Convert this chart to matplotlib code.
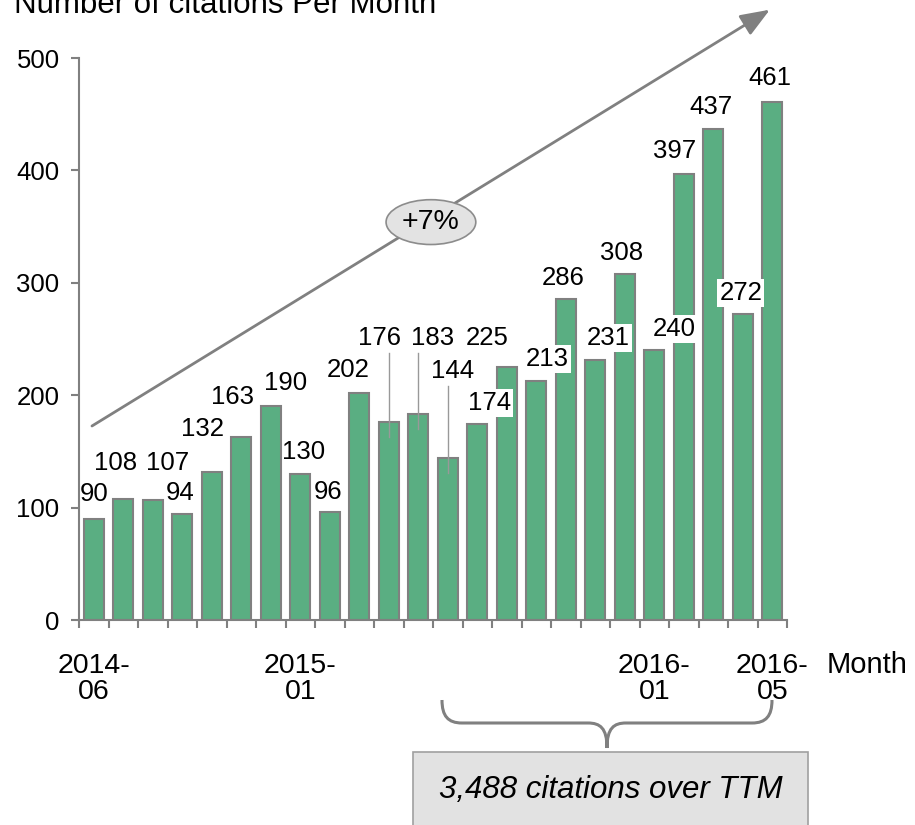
import numpy as np
import matplotlib
matplotlib.use("Agg")
import matplotlib.pyplot as plt
from matplotlib.path import Path
from matplotlib.patches import PathPatch, Rectangle

plt.rcParams['font.family'] = ['Liberation Sans', 'DejaVu Sans']

months = ['2014-06', '2014-07', '2014-08', '2014-09', '2014-10', '2014-11',
          '2014-12', '2015-01', '2015-02', '2015-03', '2015-04', '2015-05',
          '2015-06', '2015-07', '2015-08', '2015-09', '2015-10', '2015-11',
          '2015-12', '2016-01', '2016-02', '2016-03', '2016-04', '2016-05']
citations = [90, 108, 107, 94, 132, 163, 190, 130, 96, 202, 176, 183,
             144, 174, 225, 213, 286, 231, 308, 240, 397, 437, 272, 461]
shown_ticks = ['2014-06', '2015-01', '2016-01', '2016-05']
growth_label = '+7%'
ttm_label = '3,488 citations over TTM'

# label offsets in pixels (dx, dy) from the bar top, picked by eye
label_offsets = [(0, 25), (-8, 36), (15, 37), (-2, 21), (-9, 43), (-9, 40),
                 (15, 23), (3, 22), (-2, 20), (-11, 23), (-9, 84), (14, 76),
                 (5, 87), (12, 21), (-20, 29), (11, 22), (-3, 21), (13, 22),
                 (-3, 21), (20, 21), (-9, 23), (-2, 22), (-2, 21), (-2, 24)]
leader = {10, 11, 12}
boxed = {13, 15, 17, 19, 22}   # labels that sit over a neighbouring bar

green = '#5aae82'
grey = '#808080'
W, H = 915, 825

fig = plt.figure(figsize=(W / 100, H / 100), dpi=100)
ax = fig.add_axes([79 / W, 1 - 620 / H, 708 / W, 562 / H])

x = np.arange(len(months))
ax.bar(x, citations, width=0.68, color=green, edgecolor=grey, linewidth=1.5, zorder=2)

ax.set_xlim(-0.5, len(months) - 0.5)
ax.set_ylim(0, 500)
for s in ['top', 'right']:
    ax.spines[s].set_visible(False)
for s in ['left', 'bottom']:
    ax.spines[s].set_color(grey)
    ax.spines[s].set_linewidth(1.5)

ax.set_yticks([0, 100, 200, 300, 400, 500])
ax.tick_params(axis='y', length=6, width=1.5, color=grey, labelsize=18.5, pad=8)
ax.set_xticks(np.arange(-0.5, len(months)), minor=True)
ax.tick_params(axis='x', which='minor', length=6, width=1.5, color=grey)
tick_pos = [months.index(m) for m in shown_ticks]
ax.set_xticks(tick_pos)
ax.set_xticklabels([m.replace('-', '-\n') for m in shown_ticks], fontsize=20.5, linespacing=1.0)
ax.tick_params(axis='x', which='major', length=0, pad=24)

for i, v in enumerate(citations):
    dx, dy = label_offsets[i]
    box = dict(facecolor='white', edgecolor='none', pad=1.5) if i in boxed else None
    ax.annotate(str(v), (i, v), xytext=(dx, dy), textcoords='offset pixels',
                ha='center', va='center', fontsize=18.5, zorder=5, bbox=box)
    if i in leader:
        ax.plot([i, i], [v + (dy - 15) / 1.124, v - 15 / 1.124],
                color='#999999', lw=1.0, zorder=4)

# growth arrow
ax.annotate('', xy=(22.92, 543), xytext=(-0.06, 172.6), annotation_clip=False,
            arrowprops=dict(arrowstyle='-|>,head_length=0.9,head_width=0.35',
                            mutation_scale=20, color=grey, lw=2,
                            shrinkA=0, shrinkB=0), zorder=3)
ax.text(11.43, 354, growth_label, ha='center', va='center', fontsize=20.5, zorder=6,
        bbox=dict(boxstyle='ellipse,pad=0.1', facecolor='#e3e3e3', edgecolor='#8c8c8c', lw=1.2))

fig.text(14 / W, 1 - 13 / H, 'Number of citations Per Month', fontsize=22.5, va='baseline')
fig.text(827 / W, 1 - 665 / H, 'Month', fontsize=21, va='center')

# overlay in pixel coords for brace and box
ov = fig.add_axes([0, 0, 1, 1], zorder=-1)
ov.set_xlim(0, W)
ov.set_ylim(H, 0)
ov.axis('off')
verts = [(442, 700), (442, 716), (448, 723), (462, 723),
         (588, 723),
         (600, 723), (607, 728), (607, 748),
         (607, 728), (614, 723), (626, 723),
         (752, 723),
         (766, 723), (772, 716), (772, 700)]
codes = [Path.MOVETO, Path.CURVE4, Path.CURVE4, Path.CURVE4,
         Path.LINETO,
         Path.CURVE4, Path.CURVE4, Path.CURVE4,
         Path.CURVE4, Path.CURVE4, Path.CURVE4,
         Path.LINETO,
         Path.CURVE4, Path.CURVE4, Path.CURVE4]
ov.add_patch(PathPatch(Path(verts, codes), facecolor='none', edgecolor=grey, lw=2.2))
ov.add_patch(Rectangle((413, 752), 395, 90, facecolor='#e2e2e2', edgecolor='#a0a0a0', lw=1.2))
ov.text(611, 790, ttm_label, ha='center', va='center', fontsize=22.5, style='italic')

fig.savefig('out.png', dpi=100)
